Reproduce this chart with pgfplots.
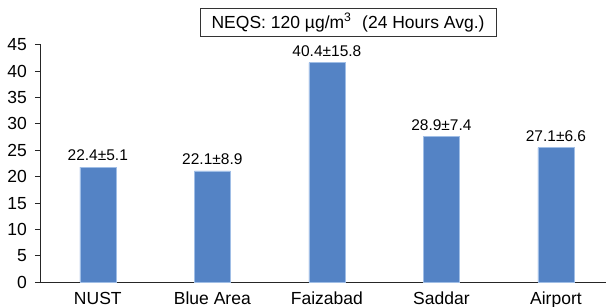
\documentclass[border=0pt]{standalone}
\usepackage{pgfplots}
\pgfplotsset{compat=1.18}
\usepackage{fontspec}
\setmainfont{Liberation Sans}
\definecolor{barblue}{RGB}{84,131,197}
\definecolor{baredge}{RGB}{160,190,230}
\begin{document}
\begin{tikzpicture}
\useasboundingbox (-41pt,-24.7pt) rectangle (565pt,282.3pt);
\begin{axis}[
  at={(0,0)}, anchor=south west,
  scale only axis, width=565pt, height=237.6pt,
  xmin=-0.496, xmax=4.437, ymin=0, ymax=45,
  axis lines*=left,
  axis line style={line width=1pt, black!85},
  ytick={0,5,...,45},
  xtick={0,1,2,3,4},
  xticklabels={NUST,Blue Area,Faizabad,Saddar,Airport},
  major tick length=6pt,
  tick style={line width=0.8pt, black!85},
  xtick style={draw=none},
  ytick align=outside,
  /pgf/number format/assume math mode=true,
  yticklabel style={font=\fontsize{17.5}{20}\selectfont, inner sep=0pt, anchor=east, xshift=-8pt},
  xticklabel style={font=\fontsize{17.5}{20}\selectfont, inner sep=0pt, anchor=base, yshift=-16.5pt},
  clip=false,
  ybar, bar width=36pt,
  nodes near coords,
  point meta=explicit symbolic,
  every node near coord/.append style={font=\fontsize{15.5}{18}\selectfont, black, inner sep=0pt, anchor=south, yshift=6pt},
]
\addplot[fill=barblue, draw=baredge, line width=0.6pt] table[meta=label] {
x y label
0 21.8 22.4±5.1
1 21.1 22.1±8.9
2 41.6 40.4±15.8
3 27.6 28.9±7.4
4 25.5 27.1±6.6
};
\node[draw=black!80, line width=1pt, minimum width=296pt, minimum height=28.5pt, inner sep=0pt, font=\fontsize{17.5}{20}\selectfont]
  at (rel axis cs:0.5434,1.0934) {NEQS: 120 µg/m\textsuperscript{3}\,\, (24 Hours Avg.)};
\end{axis}
\end{tikzpicture}
\end{document}
